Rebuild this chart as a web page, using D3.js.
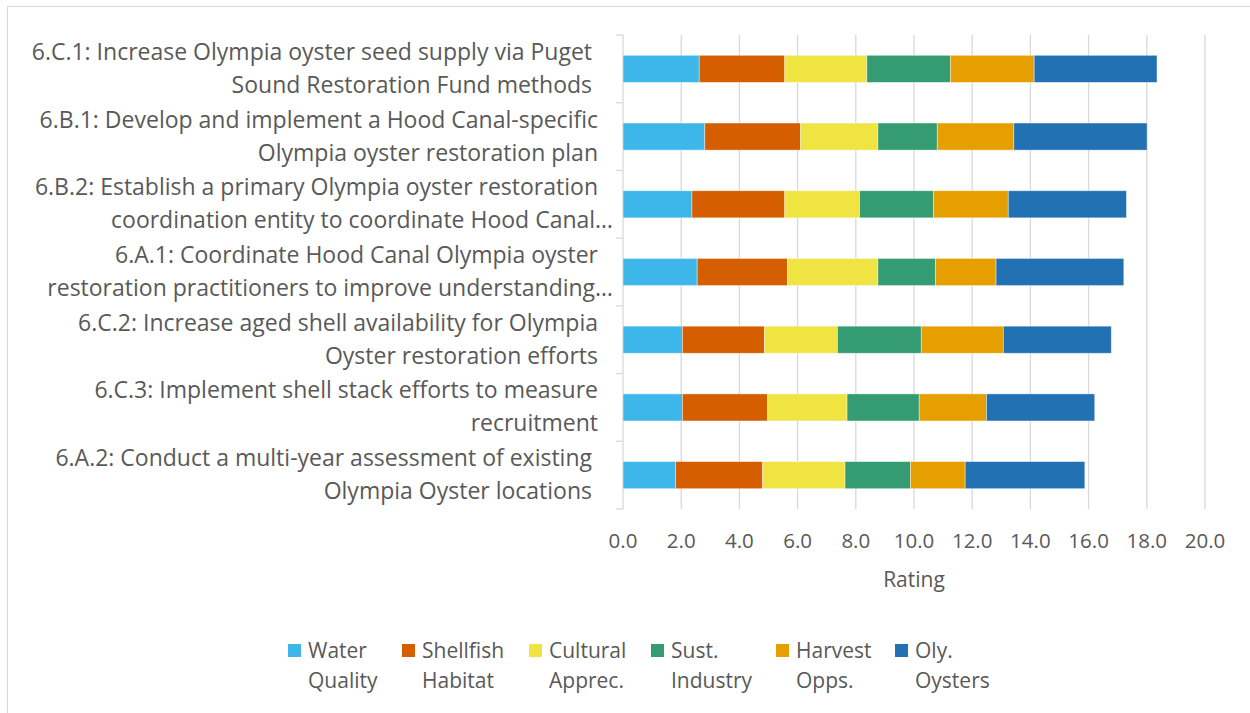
<!DOCTYPE html>
<html lang="en">
	<head>
		<title>Olympia oyster action ratings</title>
		<meta charset="utf-8">
		<script src="https://d3js.org/d3.v7.min.js"></script>
		<style>
			body { margin: 0; background: #fff; }
			text { font-family: "Open Sans", Lato, sans-serif; fill: #595959; }
		</style>
	</head>
	<body>
		<div id="plotContent"></div>
		<script>
// categories, top to bottom, as two-line labels
var labels = [
	["6.C.1: Increase Olympia oyster seed supply via Puget ", "Sound Restoration Fund methods "],
	["6.B.1: Develop and implement a Hood Canal-specific", "Olympia oyster restoration plan"],
	["6.B.2: Establish a primary Olympia oyster restoration", "coordination entity to coordinate Hood Canal…"],
	["6.A.1: Coordinate Hood Canal Olympia oyster", "restoration practitioners to improve understanding…"],
	["6.C.2: Increase aged shell availability for Olympia", "Oyster restoration efforts"],
	["6.C.3: Implement shell stack efforts to measure", "recruitment"],
	["6.A.2: Conduct a multi-year assessment of existing ", "Olympia Oyster locations "]
];

var seriesNames = [["Water", "Quality"], ["Shellfish", "Habitat"], ["Cultural", "Apprec."],
	["Sust.", "Industry"], ["Harvest", "Opps."], ["Oly.", "Oysters"]];
var colors = ["#3db7e9", "#d55e00", "#f0e442", "#359b73", "#e69f00", "#2271b2"];

// one array per series, same order as labels
var waterQuality   = [2.62, 2.81, 2.37, 2.55, 2.04, 2.04, 1.81];
var shellfishHab   = [2.94, 3.29, 3.19, 3.10, 2.82, 2.93, 2.99];
var culturalApprec = [2.82, 2.66, 2.57, 3.11, 2.51, 2.73, 2.83];
var sustIndustry   = [2.87, 2.04, 2.54, 1.98, 2.88, 2.48, 2.25];
var harvestOpps    = [2.88, 2.63, 2.57, 2.08, 2.82, 2.31, 1.88];
var olyOysters     = [4.22, 4.58, 4.06, 4.39, 3.71, 3.72, 4.11];

var xTicks = [0, 2, 4, 6, 8, 10, 12, 14, 16, 18, 20];

var series = [waterQuality, shellfishHab, culturalApprec, sustIndustry, harvestOpps, olyOysters];
var rows = labels.map(function (l, i) {
	var r = { key: i };
	series.forEach(function (s, j) { r["s" + j] = s[i]; });
	return r;
});
var keys = series.map(function (s, j) { return "s" + j; });
var stacked = d3.stack().keys(keys)(rows);

var W = 1250, H = 713;
var plot = { left: 623, right: 1205, top: 35, bottom: 509 };

var svg = d3.select("#plotContent")
	.append("svg")
	.attr("width", W)
	.attr("height", H);

// chart border (only left and top fall inside the picture)
svg.append("rect")
	.attr("x", 7.5).attr("y", 6.5)
	.attr("width", W).attr("height", H)
	.attr("fill", "none")
	.attr("stroke", "#d9d9d9");

var x = d3.scaleLinear()
	.domain([0, 20])
	.range([plot.left, plot.right]);

var y = d3.scaleBand()
	.domain(labels.map(function (d, i) { return i; }))
	.range([plot.top, plot.bottom])
	.paddingInner(0.6)
	.paddingOuter(0.3);

// vertical gridlines
svg.append("g")
	.selectAll("line")
	.data(xTicks.slice(1))
	.enter()
	.append("line")
	.attr("x1", function (d) { return x(d); })
	.attr("x2", function (d) { return x(d); })
	.attr("y1", plot.top)
	.attr("y2", plot.bottom)
	.attr("stroke", "#d9d9d9")
	.attr("stroke-width", 1.3);

// category axis with ticks between bands
var bandStep = (plot.bottom - plot.top) / labels.length;
var catAxis = svg.append("g");
catAxis.append("line")
	.attr("x1", plot.left).attr("x2", plot.left)
	.attr("y1", plot.top).attr("y2", plot.bottom)
	.attr("stroke", "#d9d9d9").attr("stroke-width", 1.3);
catAxis.selectAll(".tk")
	.data(d3.range(labels.length + 1))
	.enter()
	.append("line")
	.attr("x1", plot.left - 7).attr("x2", plot.left)
	.attr("y1", function (d) { return plot.top + d * bandStep; })
	.attr("y2", function (d) { return plot.top + d * bandStep; })
	.attr("stroke", "#d9d9d9").attr("stroke-width", 1.3);

// stacked bars
svg.append("g")
	.selectAll("g")
	.data(stacked)
	.enter()
	.append("g")
	.attr("fill", function (d, i) { return colors[i]; })
	.selectAll("rect")
	.data(function (d) { return d; })
	.enter()
	.append("rect")
	.attr("x", function (d) { return x(d[0]); })
	.attr("width", function (d) { return x(d[1]) - x(d[0]); })
	.attr("y", function (d) { return y(d.data.key); })
	.attr("height", y.bandwidth())
	.attr("stroke", "#ffffff")
	.attr("stroke-opacity", 0.5)
	.attr("stroke-width", 0.8);

// category labels
var lab = svg.append("g")
	.selectAll("text")
	.data(labels)
	.enter()
	.append("text")
	.attr("text-anchor", "end")
	.style("font-size", "23px")
	.style("white-space", "pre");
lab.each(function (d, i) {
	var cy = y(i) + y.bandwidth() / 2;
	d3.select(this).selectAll("tspan")
		.data(d)
		.enter()
		.append("tspan")
		.attr("x", function (t) { return /…$/.test(t) ? 613 : 598; })
		.attr("y", function (t, k) { return cy + (k === 0 ? -16.5 : 16.5) + 7.5; })
		.text(function (t) { return t; });
});

// x tick labels
svg.append("g")
	.selectAll("text")
	.data(xTicks)
	.enter()
	.append("text")
	.attr("x", function (d) { return x(d); })
	.attr("y", 548)
	.attr("text-anchor", "middle")
	.style("font-size", "20.5px")
	.text(function (d) { return d3.format(".1f")(d); });

// x axis title
svg.append("text")
	.attr("x", (plot.left + plot.right) / 2)
	.attr("y", 587)
	.attr("text-anchor", "middle")
	.style("font-size", "21px")
	.text("Rating");

// legend
var legendX = [288, 402, 529, 651, 776, 895];
var leg = svg.append("g")
	.selectAll("g")
	.data(seriesNames)
	.enter()
	.append("g")
	.attr("transform", function (d, i) { return "translate(" + legendX[i] + ",644)"; });
leg.append("rect")
	.attr("width", 13).attr("height", 13)
	.attr("fill", function (d, i) { return colors[i]; });
leg.append("text")
	.style("font-size", "21px")
	.selectAll("tspan")
	.data(function (d) { return d; })
	.enter()
	.append("tspan")
	.attr("x", 20)
	.attr("y", function (t, k) { return 14 + k * 30; })
	.text(function (t) { return t; });
		</script>
	</body>
</html>
